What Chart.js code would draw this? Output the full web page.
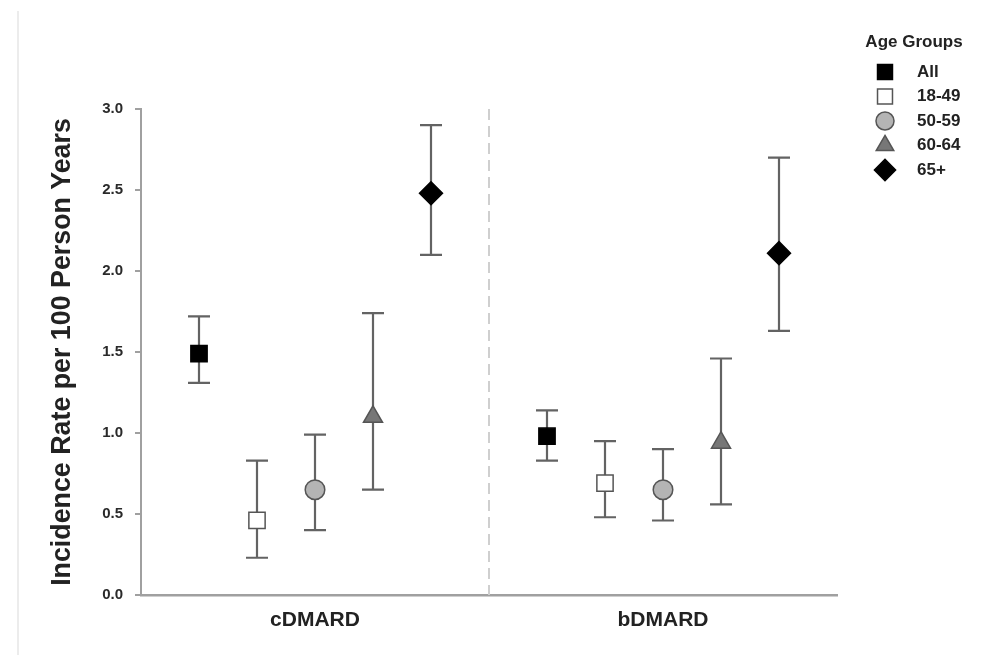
<!DOCTYPE html>
<html>
<head>
<meta charset="utf-8">
<script src="https://cdn.jsdelivr.net/npm/chart.js"></script>
<style>
  body { margin: 0; background: #fff; }
  #wrap { position: relative; width: 997px; height: 655px; }
  #frame { position: absolute; left: 17px; top: 11px; width: 0; height: 644px; border-left: 2px solid #ececec; }
</style>
</head>
<body>
<div id="wrap">
  <div id="frame"></div>
  <canvas id="irchart" width="997" height="655"></canvas>
</div>
<script>
const treatments = ['cDMARD', 'bDMARD'];
const groups = ['All', '18-49', '50-59', '60-64', '65+'];

// incidence rate per 100 person years, with 95% CI
const cdmardRate = [1.49, 0.46, 0.65, 1.10, 2.48];
const cdmardLow  = [1.31, 0.23, 0.40, 0.65, 2.10];
const cdmardHigh = [1.72, 0.83, 0.99, 1.74, 2.90];

const bdmardRate = [0.98, 0.69, 0.65, 0.94, 2.11];
const bdmardLow  = [0.83, 0.48, 0.46, 0.56, 1.63];
const bdmardHigh = [1.14, 0.95, 0.90, 1.46, 2.70];

const yTicks = [0, 0.5, 1.0, 1.5, 2.0, 2.5, 3.0];

const styles = [
    { pointStyle: 'rect',     radius: 11.5, fill: '#000000', border: '#000000' },
    { pointStyle: 'rect',     radius: 11.5, fill: '#ffffff', border: '#555555' },
    { pointStyle: 'circle',   radius: 9.8,  fill: '#b4b4b4', border: '#555555' },
    { pointStyle: 'triangle', radius: 11,   fill: '#777777', border: '#555555' },
    { pointStyle: 'rectRot',  radius: 11.5, fill: '#000000', border: '#000000' }
];

// each treatment gets a block of 6 slots on the x scale, groups in slots 1..5
const slot = (t, g) => t * 6 + g + 1;
const splitAt = 6;

var datasets = groups.map(function(name, g) {
    return {
        label: name,
        data: [
            { x: slot(0, g), y: cdmardRate[g], low: cdmardLow[g], high: cdmardHigh[g] },
            { x: slot(1, g), y: bdmardRate[g], low: bdmardLow[g], high: bdmardHigh[g] }
        ],
        pointStyle: styles[g].pointStyle,
        pointRadius: styles[g].radius,
        pointHoverRadius: styles[g].radius,
        backgroundColor: styles[g].fill,
        borderColor: styles[g].border,
        pointBorderWidth: 1.5
    };
});

var errorBars = {
    id: 'errorBars',
    beforeDatasetsDraw: function(chart) {
        var ctx = chart.ctx;
        var xs = chart.scales.x, ys = chart.scales.y;
        var area = chart.chartArea;
        ctx.save();
        // dashed divider between treatments
        ctx.strokeStyle = '#cfcfcf';
        ctx.lineWidth = 2;
        ctx.setLineDash([11, 6]);
        ctx.beginPath();
        ctx.moveTo(xs.getPixelForValue(splitAt), area.top);
        ctx.lineTo(xs.getPixelForValue(splitAt), area.bottom);
        ctx.stroke();
        ctx.setLineDash([]);

        ctx.strokeStyle = '#636363';
        ctx.lineWidth = 2.2;
        chart.data.datasets.forEach(function(ds) {
            ds.data.forEach(function(p) {
                var px = xs.getPixelForValue(p.x);
                var lo = ys.getPixelForValue(p.low);
                var hi = ys.getPixelForValue(p.high);
                ctx.beginPath();
                ctx.moveTo(px, lo); ctx.lineTo(px, hi);
                ctx.moveTo(px - 11, lo); ctx.lineTo(px + 11, lo);
                ctx.moveTo(px - 11, hi); ctx.lineTo(px + 11, hi);
                ctx.stroke();
            });
        });
        ctx.restore();
    }
};

var sideLegend = {
    id: 'sideLegend',
    afterDraw: function(chart) {
        var ctx = chart.ctx;
        ctx.save();
        ctx.fillStyle = '#222';
        ctx.textBaseline = 'middle';
        ctx.font = 'bold 17px "Liberation Sans", Arial, sans-serif';
        ctx.textAlign = 'center';
        ctx.fillText('Age Groups', 914, 42);
        ctx.textAlign = 'left';
        chart.data.datasets.forEach(function(ds, i) {
            var y = 72 + i * 24.5;
            ctx.fillStyle = ds.backgroundColor;
            ctx.strokeStyle = ds.borderColor;
            ctx.lineWidth = 1.5;
            Chart.helpers.drawPoint(ctx, {
                pointStyle: ds.pointStyle,
                radius: ds.pointRadius * 0.92,
                rotation: 0,
                borderWidth: 1.5
            }, 885, y);
            ctx.fillStyle = '#222';
            ctx.fillText(ds.label, 917, y);
        });
        ctx.restore();
    }
};

Chart.defaults.font.family = '"Liberation Sans", Arial, sans-serif';

var ctx = document.getElementById('irchart').getContext('2d');

var config = {
    type: 'scatter',
    data: { datasets: datasets },
    options: {
        responsive: false,
        animation: false,
        devicePixelRatio: 1,
        layout: { padding: { left: 0, right: 160, top: 109, bottom: 0 } },
        plugins: {
            legend: { display: false },
            tooltip: { enabled: false }
        },
        scales: {
            x: {
                type: 'linear',
                min: 0,
                max: 12,
                afterBuildTicks: function(axis) {
                    axis.ticks = treatments.map(function(t, i) { return { value: slot(i, 2) }; });
                },
                afterFit: function(axis) { axis.height = 60; },
                grid: { display: false, drawTicks: false },
                border: { color: '#a0a0a0', width: 2.5 },
                ticks: {
                    padding: 13,
                    color: '#222',
                    font: { size: 21, weight: 'bold' },
                    callback: function(v, i) { return treatments[i]; }
                }
            },
            y: {
                min: 0,
                max: 3,
                afterBuildTicks: function(axis) {
                    axis.ticks = yTicks.map(function(v) { return { value: v }; });
                },
                afterFit: function(axis) { axis.width = 141; },
                grid: { drawOnChartArea: false, drawTicks: true, tickLength: 6, color: '#a0a0a0', lineWidth: 2 },
                border: { color: '#a0a0a0', width: 2 },
                ticks: {
                    padding: 12,
                    color: '#2a2a2a',
                    font: { size: 15, weight: 'bold' },
                    callback: function(v) { return v.toFixed(1); }
                },
                title: {
                    display: true,
                    text: 'Incidence Rate per 100 Person Years',
                    color: '#222',
                    font: { size: 26.8, weight: 'bold' },
                    padding: { top: 47, bottom: 0 }
                }
            }
        }
    },
    plugins: [errorBars, sideLegend]
};

var irchart = new Chart(ctx, config);
</script>
</body>
</html>
